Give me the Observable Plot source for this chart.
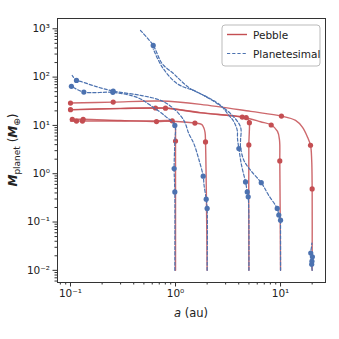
<!DOCTYPE html>
<html><head><meta charset="utf-8">
<script src="https://cdn.jsdelivr.net/npm/d3@7"></script>
<script src="https://cdn.jsdelivr.net/npm/@observablehq/plot@0.6"></script>
<style>body{margin:0;background:#fff;} #chart{width:339px;height:339px;}</style>
</head><body><div id="chart"></div>
<script>
// axis ticks
const xTicks = [0.1, 1, 10];
const xTickLabels = ["10⁻¹", "10⁰", "10¹"];
const xMinor = [0.08, 0.09, 0.2, 0.3, 0.4, 0.5, 0.6, 0.7, 0.8, 0.9, 2, 3, 4, 5, 6, 7, 8, 9, 20];
const yTicks = [0.01, 0.1, 1, 10, 100, 1000];
const yTickLabels = ["10⁻²", "10⁻¹", "10⁰", "10¹", "10²", "10³"];
const yMinor = [0.006,0.007,0.008,0.009,0.02,0.03,0.04,0.05,0.06,0.07,0.08,0.09,0.2,0.3,0.4,0.5,0.6,0.7,0.8,0.9,2,3,4,5,6,7,8,9,20,30,40,50,60,70,80,90,200,300,400,500,600,700,800,900];
const seriesNames = ["Pebble", "Planetesimal"];

// Pebble tracks [a (au), M (Earth masses)]
const pebble20 = [[20,0.01],[20,0.485],[19.8,1.9],[19.3,3.88],[18.1,5.68],[16.2,9.14],[13.9,12.7],[10.2,15.6],[5.2,19.5],[1.73,27.3],[0.72,31.9],[0.255,30.4],[0.1,29.0]];
const pebble20Dots = [[20,0.485],[19.3,3.88],[10.2,15.6],[0.255,30.4],[0.1,29.0]];
const pebble10 = [[10,0.01],[9.84,1.84],[9.78,4.92],[9.36,7.55],[8.15,10.2],[6.45,11.9],[4.32,14.9],[1.73,18.2],[0.803,22.9],[0.645,22.9],[0.299,22.5],[0.1,21.2]];
const pebble10Dots = [[9.84,1.84],[8.15,10.2],[4.32,14.9],[0.645,22.9],[0.1,21.2]];
const pebble5 = [[5,0.01],[4.99,3.94],[5.04,7.2],[5.05,11.4],[4.9,13.4],[4.71,14.5],[3.73,15.6],[1.73,18.4],[0.803,22.7],[0.3,22.3],[0.1,21.0]];
const pebble5Dots = [[4.99,3.94],[5.05,11.4],[4.71,14.5],[0.803,22.7]];
const pebble2 = [[2,0.01],[1.97,0.283],[1.93,4.54],[1.91,7.2],[1.85,9.14],[1.77,10.5],[1.53,11.2],[0.936,12.2],[0.659,12.0],[0.3,12.6],[0.132,13.4],[0.104,13.4],[0.1,13.4]];
const pebble2Dots = [[1.93,4.54],[1.53,11.2],[0.659,12.0],[0.132,13.4],[0.104,13.4]];
const pebble1 = [[1,0.01],[1,4.76],[1,7.92],[0.989,10.5],[0.957,12.0],[0.93,12.45],[0.578,12.4],[0.299,12.35],[0.13,12.3],[0.114,12.3],[0.1,12.3]];
const pebble1Dots = [[1,4.76],[0.93,12.45],[0.13,12.3],[0.114,12.3]];

// Planetesimal tracks
const plan20 = [[20,0.01],[19.8,0.0133],[20.1,0.019],[19.4,0.0228],[19.7,0.03],[19.9,0.0367]];
const plan20Dots = [[19.8,0.0133],[20.1,0.019],[19.4,0.0228],[19.9,0.0155]];
const plan10 = [[10,0.01],[10,0.0863],[10,0.109],[9.63,0.139],[9.30,0.191],[7.69,0.36],[6.55,0.652],[5.18,1.18],[4.47,1.90],[4.16,3.58],[4.16,4.92],[4.16,9.27],[3.34,17.5],[2.50,28.2],[1.61,49.0],[1.038,73.1],[0.747,161],[0.613,386]];
const plan10Dots = [[10,0.109],[9.63,0.139],[9.30,0.191],[6.55,0.652]];
const plan5 = [[5,0.01],[4.99,0.15],[4.92,0.332],[4.82,0.42],[4.64,0.677],[4.25,1.50],[4.01,3.32],[3.89,5.41],[3.87,7.92],[3.57,12.2],[3.22,16.2],[2.68,26.0],[2.0,38.6],[1.39,57.6],[1.116,85.5],[0.963,117],[0.747,189],[0.613,452],[0.464,923]];
const plan5Dots = [[4.92,0.332],[4.82,0.42],[4.64,0.677],[4.01,3.32],[0.613,452]];
const plan2 = [[2,0.01],[2,0.191],[1.96,0.297],[1.87,0.578],[1.835,0.888],[1.656,2.09],[1.494,4.21],[1.339,6.77],[1.2,12.7],[0.963,22.2],[0.72,33.0],[0.464,41.9],[0.255,51.4],[0.173,64.3],[0.1245,81.5],[0.114,85.5],[0.1038,108]];
const plan2Dots = [[2,0.191],[1.96,0.297],[1.835,0.888],[0.255,51.4],[0.114,85.5]];
const plan1 = [[0.985,0.01],[0.985,0.42],[0.97,1.28],[0.985,4.92],[0.985,10.0],[0.803,15.4],[0.578,26.0],[0.464,35.3],[0.373,41.9],[0.253,48.3],[0.134,49.0],[0.102,64.3]];
const plan1Dots = [[0.985,0.42],[0.97,1.28],[0.985,10.0],[0.253,48.3],[0.134,49.0],[0.102,64.3]];

const pebbleTracks = [pebble20, pebble10, pebble5, pebble2, pebble1];
const pebbleDots = [pebble20Dots, pebble10Dots, pebble5Dots, pebble2Dots, pebble1Dots];
const planTracks = [plan20, plan10, plan5, plan2, plan1];
const planDots = [plan20Dots, plan10Dots, plan5Dots, plan2Dots, plan1Dots];

const toRows = (tracks, type) => tracks.flatMap((t, k) => t.map(([a, m]) => ({a, m, track: type + k})));
const redRows = toRows(pebbleTracks, "p");
const redDotRows = toRows(pebbleDots, "p");
const blueRows = toRows(planTracks, "q");
const blueDotRows = toRows(planDots, "q");

const RED = "#c44e52", BLUE = "#4c72b0";
const xLab = new Map(xTicks.map((d, i) => [d, xTickLabels[i]]));
const yLab = new Map(yTicks.map((d, i) => [d, yTickLabels[i]]));

const plot = Plot.plot({
  width: 339, height: 339,
  marginLeft: 57, marginRight: 14, marginTop: 18, marginBottom: 57,
  style: {fontFamily: "DejaVu Sans", fontSize: "10px", background: "#fff", color: "#222"},
  x: {type: "log", domain: [0.0752, 26.8]},
  y: {type: "log", domain: [0.0056, 1633]},
  marks: [
    Plot.axisX(xMinor, {tickSize: 2.5, tickFormat: () => "", label: null, stroke: "#333"}),
    Plot.axisX(xTicks, {tickSize: 4.5, tickFormat: d => xLab.get(d), label: null, fontSize: 10.5, tickPadding: 3, stroke: "#333"}),
    Plot.axisY(yMinor, {tickSize: 2.5, tickFormat: () => "", label: null, stroke: "#333"}),
    Plot.axisY(yTicks, {tickSize: 4.5, tickFormat: d => yLab.get(d), label: null, fontSize: 10.5, tickPadding: 3, stroke: "#333"}),
    Plot.line(redRows, {x: "a", y: "m", z: "track", stroke: RED, strokeWidth: 1.4, strokeOpacity: 0.85, curve: "catmull-rom"}),
    Plot.dot(redDotRows, {x: "a", y: "m", r: 2.6, fill: RED}),
    Plot.line(blueRows, {x: "a", y: "m", z: "track", stroke: BLUE, strokeWidth: 1.2, strokeDasharray: "3.2,2", curve: "catmull-rom"}),
    Plot.dot(blueDotRows, {x: "a", y: "m", r: 2.6, fill: BLUE}),
    Plot.frame({stroke: "#333", strokeWidth: 1})
  ]
});
document.getElementById("chart").appendChild(plot);

const svg = d3.select(plot);
// y label
const yl = svg.append("text").attr("transform", "translate(17,150) rotate(-90)")
  .attr("text-anchor", "middle").attr("font-family", "DejaVu Sans").attr("font-size", 12).attr("fill", "#222");
yl.append("tspan").attr("font-weight", "bold").attr("font-style", "italic").text("M");
yl.append("tspan").attr("font-size", 9).attr("dy", 3).text("planet");
yl.append("tspan").attr("dy", -3).text(" (");
yl.append("tspan").attr("font-weight", "bold").attr("font-style", "italic").text("M");
yl.append("tspan").attr("font-size", 9).attr("dy", 3).text("⊕");
yl.append("tspan").attr("dy", -3).text(")");
// x label
const xl = svg.append("text").attr("x", 191).attr("y", 317).attr("text-anchor", "middle")
  .attr("font-family", "DejaVu Sans").attr("font-size", 11.5).attr("fill", "#222");
xl.append("tspan").attr("font-style", "italic").text("a");
xl.append("tspan").text(" (au)");
// legend
const lg = svg.append("g").attr("font-family", "DejaVu Sans").attr("font-size", 10.5);
lg.append("rect").attr("x", 222).attr("y", 25).attr("width", 98).attr("height", 41).attr("rx", 3)
  .attr("fill", "#fff").attr("fill-opacity", 0.9).attr("stroke", "#bbb").attr("stroke-width", 1);
lg.append("line").attr("x1", 227).attr("x2", 247).attr("y1", 34.5).attr("y2", 34.5).attr("stroke", RED).attr("stroke-width", 1.4);
lg.append("text").attr("x", 253).attr("y", 38.5).attr("text-anchor", "start").attr("fill", "#222").text(seriesNames[0]);
lg.append("line").attr("x1", 227).attr("x2", 247).attr("y1", 53.5).attr("y2", 53.5).attr("stroke", BLUE).attr("stroke-width", 1.2).attr("stroke-dasharray", "3.2,2");
lg.append("text").attr("x", 253).attr("y", 57.5).attr("text-anchor", "start").attr("fill", "#222").text(seriesNames[1]);
</script></body></html>
